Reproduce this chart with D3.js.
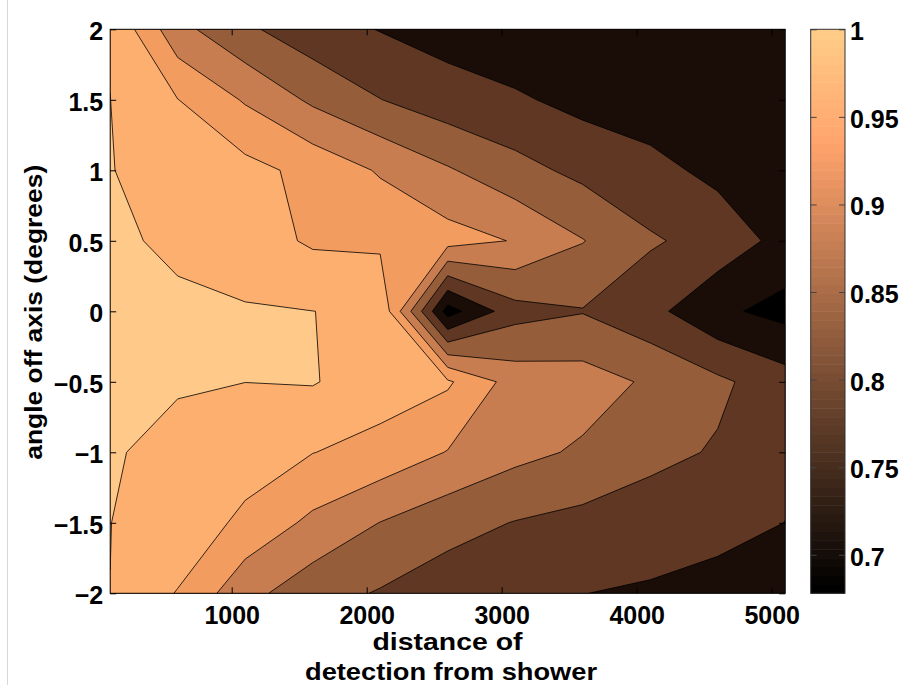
<!DOCTYPE html>
<html>
<head>
<meta charset="utf-8">
<script src="https://cdn.jsdelivr.net/npm/d3@7"></script>
<style>
  body { margin: 0; background: #fff; }
  text { font-family: "Liberation Sans", Arial, Helvetica, sans-serif; font-weight: bold; fill: #000; }
</style>
</head>
<body>
<svg id="chart" width="899" height="685"></svg>
<script>
// ---- data ----
const distances = [100, 600, 1100, 1600, 2100, 2600, 3100, 3600, 4100, 4600, 5100];
const angles = [2, 1.5, 1, 0.5, 0, -0.5, -1, -1.5, -2];
// one row per angle (top to bottom), one value per distance
const efficiencyByAngle = [
  [0.997, 0.866, 0.809, 0.770, 0.748, 0.730, 0.713, 0.710, 0.710, 0.705, 0.702],
  [1.0003, 0.951, 0.895, 0.841, 0.801, 0.772, 0.757, 0.735, 0.723, 0.718, 0.710],
  [1.0023, 0.970, 0.966, 0.935, 0.895, 0.855, 0.817, 0.787, 0.765, 0.737, 0.720],
  [1.0097, 0.990, 0.974, 0.943, 0.940, 0.920, 0.897, 0.852, 0.806, 0.781, 0.733],
  [1.020, 1.010, 1.004, 1.0003, 0.993, 0.678, 0.782, 0.7975, 0.765, 0.710, 0.684],
  [1.015, 1.0016, 1.0002, 1.003, 0.975, 0.957, 0.878, 0.872, 0.843, 0.810, 0.771],
  [1.0016, 0.995, 0.980, 0.951, 0.933, 0.898, 0.864, 0.843, 0.815, 0.795, 0.765],
  [1.0002, 0.990, 0.936, 0.889, 0.849, 0.818, 0.798, 0.785, 0.771, 0.770, 0.7495],
  [0.9999, 0.947, 0.866, 0.820, 0.796, 0.773, 0.762, 0.7505, 0.745, 0.728, 0.715]
];
const levels = [0.7, 0.75, 0.8, 0.85, 0.9, 0.95, 1.0];
const bandColors = ["#000000", "#1a0c06", "#5f3723", "#965d3a", "#c77d4f", "#f39c5f", "#fdaf6f", "#fec989"];
const xTicks = [1000, 2000, 3000, 4000, 5000];
const yTicks = [-2, -1.5, -1, -0.5, 0, 0.5, 1, 1.5, 2];
const colorbarTicks = [0.7, 0.75, 0.8, 0.85, 0.9, 0.95, 1];
const colorRange = [0.678, 1.0];
const xTitle = ["distance of", "detection from shower"];
const yTitle = "angle off axis (degrees)";

// ---- layout ----
const svg = d3.select("#chart");
const P = { left: 110.2, right: 785.2, top: 29.3, bottom: 593.3 };
const CB = { left: 810.7, right: 845, top: 29.3, bottom: 593.3 };

const x = d3.scaleLinear().domain([distances[0], distances[distances.length - 1]]).range([P.left, P.right]);
const y = d3.scaleLinear().domain([-2, 2]).range([P.bottom, P.top]);

// faint page border line at left
svg.append("line").attr("x1", 7.5).attr("x2", 7.5).attr("y1", 0).attr("y2", 685)
  .attr("stroke", "#d8d8d8").attr("stroke-width", 1);

// ---- contours ----
const nx = distances.length, ny = angles.length;
const values = efficiencyByAngle.flat();
const gx = d3.scaleLinear().domain([0.5, nx - 0.5]).range([distances[0], distances[nx - 1]]);
const gy = d3.scaleLinear().domain([0.5, ny - 0.5]).range([angles[0], angles[ny - 1]]);
const proj = d3.geoTransform({
  point(px, py) { this.stream.point(x(gx(px)), y(gy(py))); }
});
const path = d3.geoPath(proj);
const contours = d3.contours().size([nx, ny]).thresholds(levels)(values);

svg.append("clipPath").attr("id", "clip").append("rect")
  .attr("x", P.left).attr("y", P.top).attr("width", P.right - P.left).attr("height", P.bottom - P.top);

const g = svg.append("g").attr("clip-path", "url(#clip)");
g.append("rect").attr("x", P.left).attr("y", P.top)
  .attr("width", P.right - P.left).attr("height", P.bottom - P.top)
  .attr("fill", bandColors[0]);
g.selectAll("path.fill").data(contours).join("path")
  .attr("class", "fill").attr("d", path)
  .attr("fill", (d, i) => bandColors[i + 1]).attr("stroke", "none");
g.selectAll("path.line").data(contours).join("path")
  .attr("class", "line").attr("d", path)
  .attr("fill", "none").attr("stroke", "#000").attr("stroke-width", 0.8)
  .attr("stroke-linejoin", "round");

// ---- axes ----
const fmtY = d => d < 0 ? "\u2212" + Math.abs(d) : String(d);
function styleAxis(sel, fontSize) {
  sel.select(".domain").remove();
  sel.selectAll(".tick line").attr("stroke", "#000").attr("stroke-width", 1);
  sel.selectAll(".tick text").attr("font-size", fontSize)
    .style("font-family", "'Liberation Sans', Arial, sans-serif").style("font-weight", "bold").attr("fill", "#000");
}
const axB = svg.append("g").attr("transform", `translate(0,${P.bottom})`)
  .call(d3.axisBottom(x).tickValues(xTicks).tickSize(-6).tickPadding(12.5).tickFormat(d3.format("d")));
styleAxis(axB, 25);
const axT = svg.append("g").attr("transform", `translate(0,${P.top})`)
  .call(d3.axisTop(x).tickValues(xTicks).tickSize(-6).tickFormat(""));
styleAxis(axT, 25);
const axL = svg.append("g").attr("transform", `translate(${P.left},0)`)
  .call(d3.axisLeft(y).tickValues(yTicks).tickSize(-6).tickPadding(7).tickFormat(fmtY));
styleAxis(axL, 25);
axL.selectAll(".tick text").attr("dy", "0.42em");
const axR = svg.append("g").attr("transform", `translate(${P.right},0)`)
  .call(d3.axisRight(y).tickValues(yTicks).tickSize(-6).tickFormat(""));
styleAxis(axR, 25);

svg.append("rect").attr("x", P.left).attr("y", P.top)
  .attr("width", P.right - P.left).attr("height", P.bottom - P.top)
  .attr("fill", "none").attr("stroke", "#000").attr("stroke-width", 1);

// ---- axis titles ----
svg.append("text").attr("transform", `translate(41.5,${(P.top + P.bottom) / 2 + 1}) rotate(-90)`)
  .attr("text-anchor", "middle").attr("font-size", 24)
  .attr("textLength", 295).attr("lengthAdjust", "spacingAndGlyphs").text(yTitle);
svg.append("text").attr("x", 447.5).attr("y", 650).attr("text-anchor", "middle").attr("font-size", 24)
  .attr("textLength", 150).attr("lengthAdjust", "spacingAndGlyphs").text(xTitle[0]);
svg.append("text").attr("x", 451).attr("y", 680).attr("text-anchor", "middle").attr("font-size", 24)
  .attr("textLength", 292).attr("lengthAdjust", "spacingAndGlyphs").text(xTitle[1]);

// ---- colorbar (copper colormap, 64 steps) ----
const cb = d3.scaleLinear().domain(colorRange).range([CB.bottom, CB.top]);
const copper = t => d3.rgb(255 * Math.min(1, 1.25 * t), 255 * 0.7812 * t + 4 * t, 255 * 0.4975 * t + 8 * t);
const nSteps = 64;
const steps = d3.range(nSteps).map(k => ({
  v0: colorRange[0] + (colorRange[1] - colorRange[0]) * k / nSteps,
  v1: colorRange[0] + (colorRange[1] - colorRange[0]) * (k + 1) / nSteps,
  t: k / (nSteps - 1)
}));
svg.append("g").selectAll("rect").data(steps).join("rect")
  .attr("x", CB.left).attr("width", CB.right - CB.left)
  .attr("y", d => cb(d.v1)).attr("height", d => cb(d.v0) - cb(d.v1) + 0.5)
  .attr("fill", d => copper(d.t));
const cbR = svg.append("g").attr("transform", `translate(${CB.right},0)`)
  .call(d3.axisRight(cb).tickValues(colorbarTicks).tickSize(-6).tickPadding(5)
    .tickFormat(d => d === 1 ? "1" : d3.format(".2~f")(d)));
styleAxis(cbR, 25);
cbR.selectAll(".tick line").attr("stroke", "#444");
cbR.selectAll(".tick text").attr("dy", "0.42em");
const cbL = svg.append("g").attr("transform", `translate(${CB.left},0)`)
  .call(d3.axisLeft(cb).tickValues(colorbarTicks).tickSize(-6).tickFormat(""));
styleAxis(cbL, 25);
cbL.selectAll(".tick line").attr("stroke", "#444");
svg.append("rect").attr("x", CB.left).attr("y", CB.top)
  .attr("width", CB.right - CB.left).attr("height", CB.bottom - CB.top)
  .attr("fill", "none").attr("stroke", "#333").attr("stroke-width", 1);
</script>
</body>
</html>
